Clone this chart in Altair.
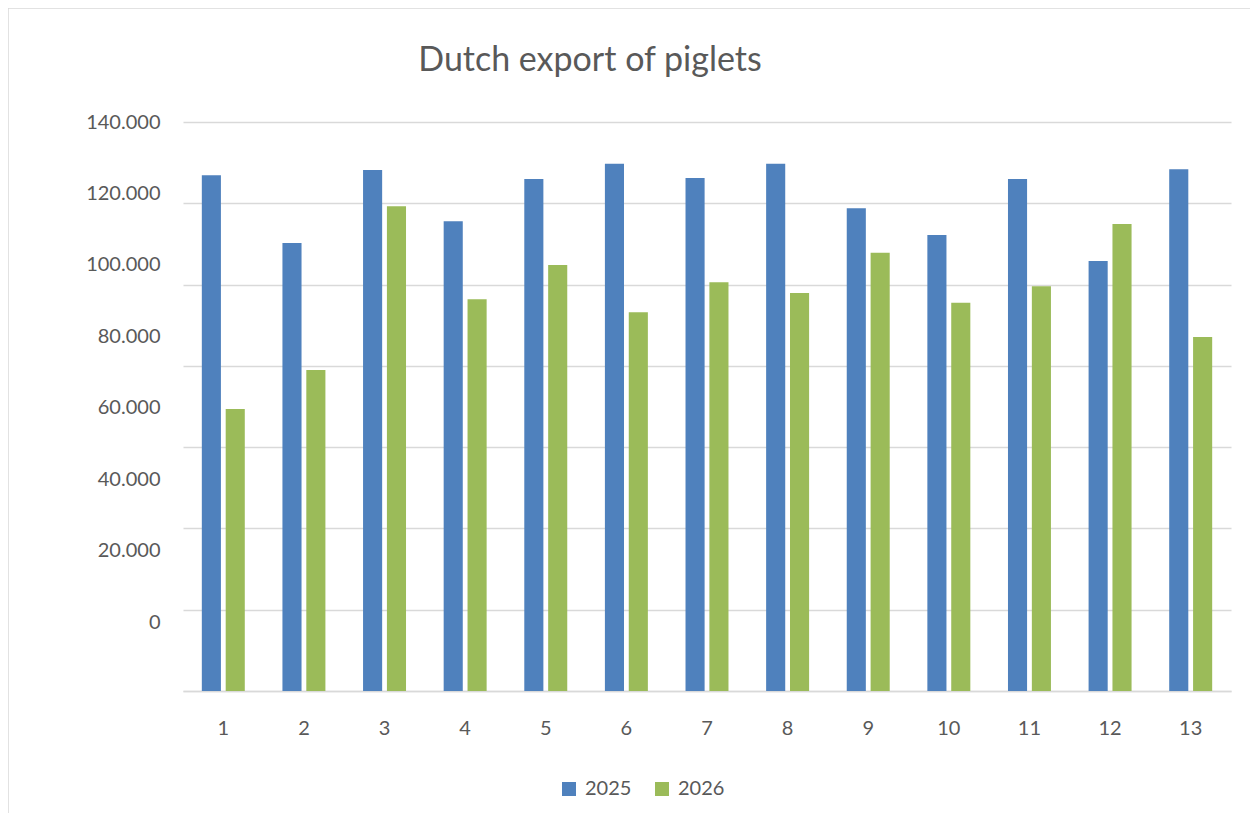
import altair as alt
import pandas as pd

weeks = [str(i) for i in range(1, 14)]
exports_2025 = [126900, 110200, 128200, 115600, 126000, 129700, 126200, 129700, 118800, 112200, 126000, 105800, 128400]
exports_2026 = [69400, 79000, 119300, 96400, 104800, 93200, 100600, 97900, 107800, 95500, 99600, 114900, 87100]
series = ["2025", "2026"]
y_ticks = [0, 20000, 40000, 60000, 80000, 100000, 120000, 140000]

rows = []
for w, a, b in zip(weeks, exports_2025, exports_2026):
    rows.append({"week": w, "year": series[0], "value": a})
    rows.append({"week": w, "year": series[1], "value": b})
df = pd.DataFrame(rows)

FONT = "Lato"
TXT = "#595959"
GRID = "#d9d9d9"

bars = alt.Chart(df).mark_bar().encode(
    x=alt.X("week:N", sort=weeks, title=None,
            scale=alt.Scale(paddingInner=0.467, paddingOuter=0.2335),
            axis=alt.Axis(labelAngle=0, labelFont=FONT, labelFontSize=20, labelColor=TXT,
                          ticks=False, domainColor=GRID, domainWidth=1.5, labelPadding=27)),
    xOffset=alt.XOffset("year:N", scale=alt.Scale(paddingInner=0.2, paddingOuter=0)),
    y=alt.Y("value:Q", title=None,
            scale=alt.Scale(domain=[0, 140000], nice=False),
            axis=alt.Axis(values=y_ticks, grid=True, gridColor=GRID, gridWidth=1.5,
                          domain=False, ticks=False, labelFont=FONT, labelFontSize=20,
                          labelColor=TXT, labelPadding=23,
                          labelExpr="datum.value == 0 ? '0' : format(datum.value/1000, 'd') + '.000'",
                          labelOffset={"expr": "-69*(1-datum.value/140000)"},
                          labelOverlap=False)),
    color=alt.Color("year:N", scale=alt.Scale(domain=series, range=["#4f81bd", "#9bbb59"]),
                    legend=alt.Legend(title=None, orient="none", legendX=376, legendY=657,
                                      direction="horizontal", symbolType="square", symbolSize=196,
                                      symbolStrokeWidth=0, labelFont=FONT, labelFontSize=20,
                                      labelColor=TXT, columnPadding=20, labelOffset=6)),
)

frame = alt.Chart(alt.Data(values=[{}])).mark_rect(fill=None, stroke=GRID, strokeWidth=1.5).encode(
    x=alt.value(-175), x2=alt.value(1048 + 60), y=alt.value(-114), y2=alt.value(569 + 160)
)

chart = alt.layer(frame, bars).properties(
    width=1048, height=569,
    title=alt.TitleParams("Dutch export of piglets", font=FONT, fontSize=34, fontWeight="normal",
                          color=TXT, anchor="middle", dx=-117, offset=-98, baseline="alphabetic"),
    padding={"left": 175, "top": 114, "right": 19, "bottom": 122},
    autosize=alt.AutoSizeParams(type="none"),
).configure_view(stroke=None)

chart.save("out.html", embed_options={"renderer": "svg", "actions": False})
